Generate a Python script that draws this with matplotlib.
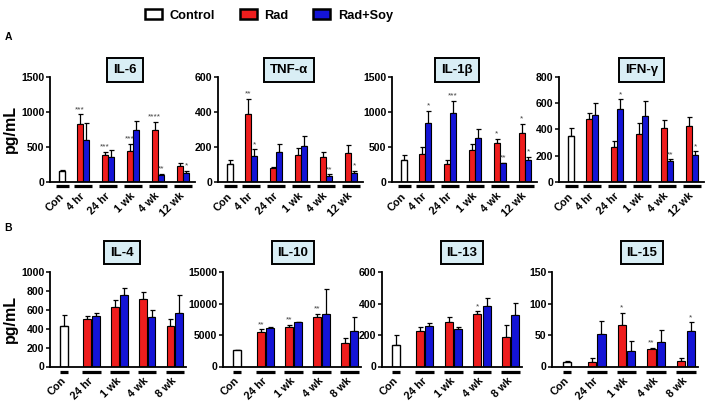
import matplotlib as mpl
mpl.use('Agg')
import matplotlib.pyplot as plt
import matplotlib.transforms as mtrans
from matplotlib.patches import Patch

mpl.rc("font", family="Liberation Sans", weight="bold", size=7)
mpl.rc("axes", labelweight="bold")

RED = "#ee1d1d"
BLUE = "#1414d6"
BOXFILL = "#d9eef5"
STARCOL = "#404040"

topGroups = ["Con", "4 hr", "24 hr", "1 wk", "4 wk", "12 wk"]
botGroups = ["Con", "24 hr", "1 wk", "4 wk", "8 wk"]

# values (mean, upper error)
il6Con = [155, 15]
il6Rad = [823, 381, 438, 738, 228]
il6RadErr = [144, 50, 110, 120, 39]
il6Soy = [595, 357, 738, 95, 133]
il6SoyErr = [248, 105, 129, 24, 29]
il6RadStars = ["***", "***", "***", "****", ""]
il6SoyStars = ["", "", "", "**", "*"]

tnfCon = [102, 25]
tnfRad = [389, 78, 156, 145, 164]
tnfRadErr = [88, 10, 39, 25, 45]
tnfSoy = [150, 170, 205, 37, 50]
tnfSoyErr = [36, 45, 59, 6, 15]
tnfRadStars = ["**", "", "", "", ""]
tnfSoyStars = ["*", "", "", "**", "*"]

il1bCon = [317, 73]
il1bRad = [405, 263, 458, 551, 698]
il1bRadErr = [97, 54, 88, 69, 131]
il1bSoy = [839, 985, 624, 268, 310]
il1bSoyErr = [176, 176, 132, 10, 50]
il1bRadStars = ["", "", "", "*", "*"]
il1bSoyStars = ["*", "***", "", "**", "*"]

ifnCon = [352, 63]
ifnRad = [481, 266, 365, 409, 423]
ifnRadErr = [41, 44, 83, 64, 72]
ifnSoy = [508, 558, 505, 159, 203]
ifnSoyErr = [91, 74, 113, 14, 33]
ifnRadStars = ["", "", "", "", ""]
ifnSoyStars = ["", "*", "", "**", "*"]

il4Con = [424, 117]
il4Rad = [505, 625, 717, 432]
il4RadErr = [25, 82, 67, 73]
il4Soy = [537, 756, 523, 565]
il4SoyErr = [28, 74, 71, 190]
il4RadStars = ["", "", "", ""]
il4SoyStars = ["", "", "", ""]

il10Con = [2571, 100]
il10Rad = [5464, 6267, 7874, 3740]
il10RadErr = [426, 373, 536, 860]
il10Soy = [6107, 7017, 8410, 5670]
il10SoyErr = [103, 103, 3856, 2250]
il10RadStars = ["**", "**", "**", ""]
il10SoyStars = ["", "", "", ""]

il13Con = [138, 60]
il13Rad = [228, 283, 336, 185]
il13RadErr = [23, 32, 15, 81]
il13Soy = [257, 238, 381, 330]
il13SoyErr = [20, 15, 55, 74]
il13RadStars = ["", "", "*", ""]
il13SoyStars = ["", "", "", ""]

il15Con = [7, 2]
il15Rad = [7, 66, 28, 9.3]
il15RadErr = [6.5, 19, 2, 3.6]
il15Soy = [51, 25, 39, 56]
il15SoyErr = [22, 15, 19, 14.5]
il15RadStars = ["", "*", "**", ""]
il15SoyStars = ["", "", "", "*"]

W, H = 708, 409


def pxRect(x0, x1, ybot, ytop):
    return [x0 / W, 1 - ybot / H, (x1 - x0) / W, (ybot - ytop) / H]


def errBar(ax, x, val, err):
    ax.errorbar(x, val, yerr=[[0], [err]], fmt='none', ecolor='black',
                elinewidth=0.9, capsize=1.8, capthick=0.9, zorder=1, clip_on=False)


def star(ax, x, top, s):
    if s:
        ax.annotate(s, (x, top), xytext=(0, 0.8), textcoords='offset points',
                    ha='center', va='bottom', fontsize=6, color=STARCOL,
                    fontweight='normal')


def drawPanel(ax, name, groups, con, rad, radErr, soy, soyErr, radStars, soyStars,
              yticks, xs, xlim, bw, off, conLine, pairLine, lineY, boxXY, ylab):
    ax.bar(xs[0], con[0], bw, color='white', edgecolor='black', lw=1.0, zorder=2)
    errBar(ax, xs[0], con[0], con[1])
    for i in range(len(rad)):
        x = xs[i + 1]
        ax.bar(x - off, rad[i], bw, color=RED, edgecolor='black', lw=0.8, zorder=2)
        ax.bar(x + off, soy[i], bw, color=BLUE, edgecolor='black', lw=0.8, zorder=2)
        errBar(ax, x - off, rad[i], radErr[i])
        errBar(ax, x + off, soy[i], soyErr[i])
        star(ax, x - off, rad[i] + radErr[i], radStars[i])
        star(ax, x + off, soy[i] + soyErr[i], soyStars[i])

    trans = mtrans.blended_transform_factory(ax.transData, ax.transAxes)
    for j, x in enumerate(xs):
        half = (conLine if j == 0 else pairLine) / 2
        ax.plot([x - half, x + half], [lineY, lineY], color='black', lw=2.3,
                solid_capstyle='butt', transform=trans, clip_on=False)

    ax.set_xlim(*xlim)
    ax.set_ylim(yticks[0], yticks[-1])
    ax.set_yticks(yticks)
    ax.set_xticks(xs)
    ax.set_xticklabels(groups, rotation=45, ha='right', va='center',
                       rotation_mode='anchor', fontsize=7.8)
    ax.tick_params(axis='x', length=0, pad=9)
    ax.tick_params(axis='y', length=3, width=1.1, pad=1, labelsize=7.6)
    for sp in ['top', 'right']:
        ax.spines[sp].set_visible(False)
    for sp in ['left', 'bottom']:
        ax.spines[sp].set_linewidth(1.3)
    ax.text(boxXY[0], boxXY[1], name, transform=ax.transAxes, ha='center', va='center',
            fontsize=9.5, bbox=dict(boxstyle='square,pad=0.45', fc=BOXFILL, ec='black', lw=1.4))
    if ylab:
        ax.set_ylabel("pg/mL", fontsize=11.5, fontweight='bold', labelpad=2)


fig = plt.figure(figsize=(W / 100, H / 100), dpi=100)

topX = [0.16, 1, 2, 3, 4, 5]
topLim = (-0.32, 5.48)
botX = [0, 1, 2, 3, 4]
botLim = (-0.5, 4.4)

topPanels = [
    ("IL-6", il6Con, il6Rad, il6RadErr, il6Soy, il6SoyErr, il6RadStars, il6SoyStars,
     [0, 500, 1000, 1500], (50, 195), (0.517, 1.067), True),
    ("TNF-α", tnfCon, tnfRad, tnfRadErr, tnfSoy, tnfSoyErr, tnfRadStars, tnfSoyStars,
     [0, 200, 400, 600], (218, 363), (0.49, 1.067), False),
    ("IL-1β", il1bCon, il1bRad, il1bRadErr, il1bSoy, il1bSoyErr, il1bRadStars, il1bSoyStars,
     [0, 500, 1000, 1500], (392, 537), (0.448, 1.067), False),
    ("IFN-γ", ifnCon, ifnRad, ifnRadErr, ifnSoy, ifnSoyErr, ifnRadStars, ifnSoyStars,
     [0, 200, 400, 600, 800], (559, 704), (0.572, 1.067), False),
]
botPanels = [
    ("IL-4", il4Con, il4Rad, il4RadErr, il4Soy, il4SoyErr, il4RadStars, il4SoyStars,
     [0, 200, 400, 600, 800, 1000], (50, 186), (0.53, 1.206), True),
    ("IL-10", il10Con, il10Rad, il10RadErr, il10Soy, il10SoyErr, il10RadStars, il10SoyStars,
     [0, 5000, 10000, 15000], (223, 361), (0.507, 1.206), False),
    ("IL-13", il13Con, il13Rad, il13RadErr, il13Soy, il13SoyErr, il13RadStars, il13SoyStars,
     [0, 200, 400, 600], (382, 522), (0.571, 1.206), False),
    ("IL-15", il15Con, il15Rad, il15RadErr, il15Soy, il15SoyErr, il15RadStars, il15SoyStars,
     [0, 50, 100, 150], (552, 698), (0.616, 1.206), False),
]

for p in topPanels:
    ax = fig.add_axes(pxRect(p[9][0], p[9][1], 182, 77))
    drawPanel(ax, p[0], topGroups, *p[1:8], p[8], topX, topLim, 0.24, 0.13,
              0.52, 0.72, -0.04, p[10], p[11])

for p in botPanels:
    ax = fig.add_axes(pxRect(p[9][0], p[9][1], 366.5, 272))
    drawPanel(ax, p[0], botGroups, *p[1:8], p[8], botX, botLim, 0.28, 0.16,
              0.28, 0.66, -0.055, p[10], p[11])

handles = [Patch(facecolor='white', edgecolor='black', lw=1.8, label='Control'),
           Patch(facecolor=RED, edgecolor='black', lw=1.8, label='Rad'),
           Patch(facecolor=BLUE, edgecolor='black', lw=1.8, label='Rad+Soy')]
fig.legend(handles=handles, loc='upper center', bbox_to_anchor=(0.38, 1.005), ncol=3,
           frameon=False, fontsize=9.2, handlelength=1.35, handleheight=0.8,
           columnspacing=1.9, handletextpad=0.6)

fig.text(0.006, 1 - 37 / H, "A", fontsize=7.5, va='center')
fig.text(0.006, 1 - 228 / H, "B", fontsize=7.5, va='center')

fig.savefig("out.png", dpi=100)
